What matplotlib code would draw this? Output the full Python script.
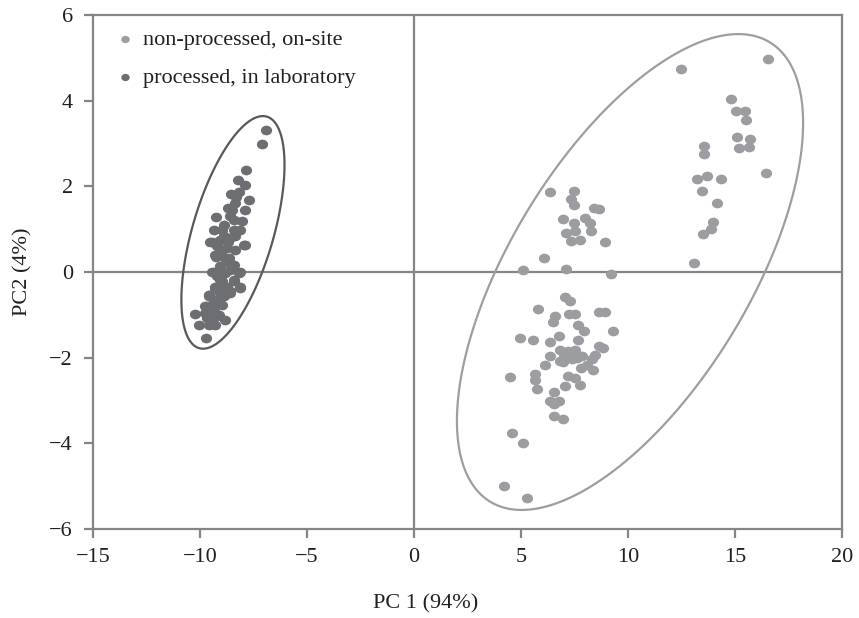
import numpy as np
import matplotlib
matplotlib.use("Agg")
from matplotlib import pyplot as plt
from matplotlib.markers import MarkerStyle
from matplotlib.patches import Polygon
from matplotlib.transforms import Affine2D

# non-processed, on-site samples (PC1, PC2)
onsite_pc1 = [16.57, 12.48, 14.84, 15.06, 15.47, 15.50, 15.09, 15.71, 15.21, 15.68,
              16.45, 13.55, 13.55, 13.22, 13.69, 14.36, 13.47, 14.16, 13.99, 13.89,
              13.50, 13.11,
              6.37, 7.46, 7.35, 7.49, 8.43, 8.64, 6.99, 7.46, 8.00, 8.21,
              7.12, 7.54, 8.29, 7.35, 7.77, 8.95, 6.06, 5.09, 7.10, 9.22,
              7.07, 7.30, 5.82, 6.60, 6.50, 7.27, 7.54, 8.63, 8.94, 7.65,
              7.93, 9.30, 4.97, 5.56, 6.76, 6.37, 7.69, 8.63, 8.86, 6.84,
              7.22, 7.54, 7.85, 6.37, 6.84, 8.47, 8.32, 6.14, 7.38, 7.80,
              8.08, 8.39, 5.67, 5.67, 4.50, 7.18, 7.54, 7.07, 7.77, 5.75,
              6.56, 6.34, 6.76, 6.56, 6.56, 6.99, 4.58, 5.09, 4.23, 5.29,
              7.45, 7.00, 6.95, 7.60]
onsite_pc2 = [4.97, 4.73, 4.03, 3.76, 3.76, 3.54, 3.16, 3.10, 2.90, 2.93,
              2.30, 2.95, 2.76, 2.17, 2.25, 2.16, 1.90, 1.60, 1.17, 1.00,
              0.89, 0.22,
              1.86, 1.90, 1.71, 1.57, 1.50, 1.47, 1.24, 1.14, 1.26, 1.14,
              0.92, 0.95, 0.95, 0.73, 0.75, 0.69, 0.33, 0.05, 0.07, -0.05,
              -0.58, -0.67, -0.86, -1.03, -1.17, -0.97, -0.97, -0.94, -0.94, -1.23,
              -1.37, -1.37, -1.54, -1.58, -1.50, -1.63, -1.59, -1.73, -1.77, -1.81,
              -1.85, -1.81, -1.95, -1.97, -2.07, -1.93, -2.04, -2.16, -2.04, -2.24,
              -2.16, -2.28, -2.39, -2.51, -2.46, -2.43, -2.47, -2.67, -2.64, -2.74,
              -2.81, -3.02, -3.02, -3.09, -3.35, -3.42, -3.77, -4.00, -5.00, -5.28,
              -1.88, -1.95, -2.10, -2.00]

# processed, in laboratory samples (PC1, PC2)
lab_pc1 = [-6.92, -7.09, -7.85, -8.22, -7.88, -8.54, -8.18, -7.73, -8.35, -7.88,
           -8.69, -9.27, -8.58, -8.43, -8.04, -8.97, -9.36, -8.43, -8.15, -9.44,
           -9.05, -8.58, -8.35, -7.92, -9.21, -8.74, -8.35, -9.24, -8.82, -8.58,
           -9.05, -9.36, -8.82, -8.15, -8.43, -8.97, -9.29, -8.74, -8.15, -9.60,
           -9.05, -8.58, -8.58, -9.21, -9.60, -9.36, -8.97, -9.67, -10.22, -9.75,
           -9.36, -9.67, -9.21, -8.82, -10.07, -9.60, -9.29, -9.71,
           -9.52, -7.88, -9.29, -8.66, -8.43, -9.44, -8.20, -9.05, -8.43, -8.12,
           -9.29, -9.60, -8.90, -9.14, -9.75,
           -8.90, -8.70, -9.00, -8.60, -9.20, -8.80, -9.40, -9.10, -9.45, -8.90,
           -8.50, -8.30]
lab_pc2 = [3.32, 2.99, 2.38, 2.15, 2.03, 1.83, 1.86, 1.69, 1.62, 1.45,
           1.49, 1.28, 1.30, 1.22, 1.18, 0.99, 0.99, 0.99, 0.99, 0.71,
           0.75, 0.79, 0.83, 0.62, 0.60, 0.56, 0.52, 0.36, 0.33, 0.21,
           0.13, 0.00, -0.02, -0.01, -0.18, -0.22, -0.37, -0.34, -0.37, -0.53,
           -0.49, -0.49, -0.45, -0.37, -0.57, -0.65, -0.76, -0.80, -0.97, -0.96,
           -0.92, -1.07, -1.03, -1.11, -1.23, -1.23, -1.23, -1.54,
           0.71, 0.64, 0.40, 0.33, 0.17, 0.01, -0.02, -0.18, -0.22, -0.34,
           -0.34, -0.53, -0.57, -0.72, -0.80,
           0.85, 0.70, 0.45, 0.05, -0.10, -0.45, -0.85, -1.00, -1.15, 1.10,
           1.45, 1.75]

x_ticks = [-15, -10, -5, 0, 5, 10, 15, 20]
y_ticks = [-6, -4, -2, 0, 2, 4, 6]

# confidence ellipses: centre, half-widths and tilt (x = cx + rx cos t, y = cy + ry cos(t - phi))
lab_ellipse = (-8.46, 0.925, 2.41, 2.715, 0.58)
onsite_ellipse = (10.10, 0.0, 8.09, 5.555, 0.626)

light = "#9c9da1"
dark = "#6d6e71"
frame = "#858585"
txt = "#231f20"

plt.rcParams["font.family"] = ["Liberation Serif", "DejaVu Serif"]

fig = plt.figure(figsize=(8.59, 6.18), dpi=100)
ax = fig.add_axes([0.1083, 0.144, 0.8717, 0.8317])

marker = MarkerStyle("o", transform=Affine2D().scale(1.1, 0.95))
ax.scatter(onsite_pc1, onsite_pc2, s=54, marker=marker, color=light, lw=0, zorder=3,
           label="non-processed, on-site")
ax.scatter(lab_pc1, lab_pc2, s=54, marker=marker, color=dark, lw=0, zorder=3,
           label="processed, in laboratory")

t = np.linspace(0, 2 * np.pi, 400, endpoint=False)
for (cx, cy, rx, ry, c), col in [(lab_ellipse, "#58595b"), (onsite_ellipse, "#9d9ea2")]:
    phi = np.arccos(c)
    pts = np.column_stack([cx + rx * np.cos(t), cy + ry * np.cos(t - phi)])
    ax.add_patch(Polygon(pts, closed=True, fill=False, edgecolor=col, lw=1.6, zorder=2))

ax.axhline(0, color=frame, lw=1.6, zorder=1)
ax.axvline(0, color=frame, lw=1.6, zorder=1)

ax.set_xlim(-15, 20)
ax.set_ylim(-6, 6)
ax.set_xticks(x_ticks)
ax.set_yticks(y_ticks)
ax.set_xticklabels([str(v).replace("-", "\u2212") for v in x_ticks])
ax.set_yticklabels([str(v).replace("-", "\u2212") for v in y_ticks])
for sp in ax.spines.values():
    sp.set_color(frame)
    sp.set_linewidth(1.6)
ax.tick_params(direction="out", length=6.5, width=1.6, color=frame, labelsize=16,
               labelcolor=txt)
ax.tick_params(axis="x", pad=7)
ax.tick_params(axis="y", pad=8)

fig.text(0.496, 1 - 604 / 618, "PC 1 (94%)", fontsize=16, color=txt, ha="center", va="center")
ax.set_ylabel("PC2 (4%)", fontsize=16, color=txt, labelpad=12)

leg = ax.legend(loc="upper left", frameon=False, fontsize=16, markerscale=0.75,
                handletextpad=0.3, labelspacing=0.8, borderaxespad=0.2,
                handlelength=1.1, labelcolor=txt, bbox_to_anchor=(0.008, 0.998))

fig.savefig("out.png", dpi=100)
